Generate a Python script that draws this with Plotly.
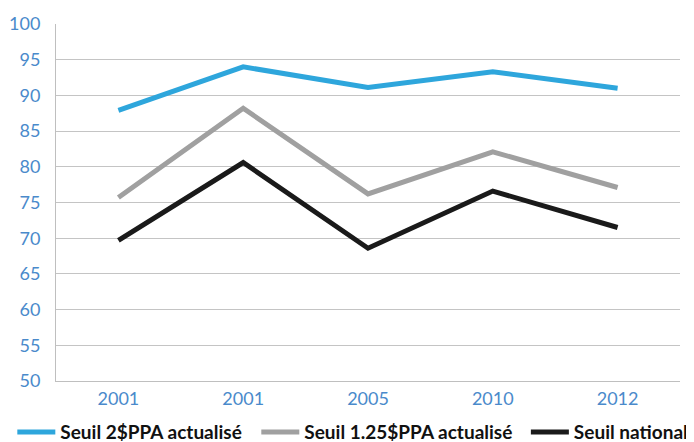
import plotly.graph_objects as go

# categories (note: the source repeats 2001)
years = ['2001', '2001', '2005', '2010', '2012']
pos = [0, 1, 2, 3, 4]

seuil_2ppa = [87.9, 94.0, 91.1, 93.3, 91.0]
seuil_125ppa = [75.7, 88.2, 76.2, 82.1, 77.1]
seuil_national = [69.7, 80.6, 68.6, 76.6, 71.5]

y_ticks = [50, 55, 60, 65, 70, 75, 80, 85, 90, 95, 100]

fig = go.Figure()

# series - one legend box each so the row never wraps
fig.add_trace(go.Scatter(x=pos, y=seuil_2ppa, mode='lines', name='Seuil 2$PPA actualisé',
                         line=dict(color='#2EA6DC', width=5), legend='legend'))
fig.add_trace(go.Scatter(x=pos, y=seuil_125ppa, mode='lines', name='Seuil 1.25$PPA actualisé',
                         line=dict(color='#A0A0A0', width=5), legend='legend2'))
fig.add_trace(go.Scatter(x=pos, y=seuil_national, mode='lines', name='Seuil national',
                         line=dict(color='#1A1A1A', width=5), legend='legend3'))

fig.update_xaxes(
    tickmode='array', tickvals=pos, ticktext=years,
    range=[-0.5, 4.5], showgrid=False, zeroline=False,
    showline=True, linecolor='#BFBFBF', linewidth=1,
    ticks='', ticklabelstandoff=1, automargin=False,
    tickfont=dict(family='Lato', size=18, color='#4A8ACB'),
)
fig.update_yaxes(
    tickmode='array', tickvals=y_ticks, range=[50, 100],
    showgrid=True, gridcolor='#C4C4C4', gridwidth=1, zeroline=False,
    showline=True, linecolor='#BFBFBF', linewidth=1,
    ticks='', ticklabelstandoff=11, automargin=False,
    tickfont=dict(family='Lato', size=18, color='#4A8ACB'),
)

leg = dict(orientation='h', xanchor='left', y=-0.09, yanchor='top',
           font=dict(family='Lato', size=19, color='#111111', weight='bold'),
           itemwidth=38, bgcolor='rgba(0,0,0,0)')

# page body adds 8px offset, margins compensate
fig.update_layout(
    width=694, height=442,
    margin=dict(l=48, r=22, t=16, b=69, autoexpand=False),
    plot_bgcolor='white', paper_bgcolor='white',
    showlegend=True,
    legend=dict(leg, x=-0.07),
    legend2=dict(leg, x=0.321),
    legend3=dict(leg, x=0.753),
)

fig.write_html("out.html")
